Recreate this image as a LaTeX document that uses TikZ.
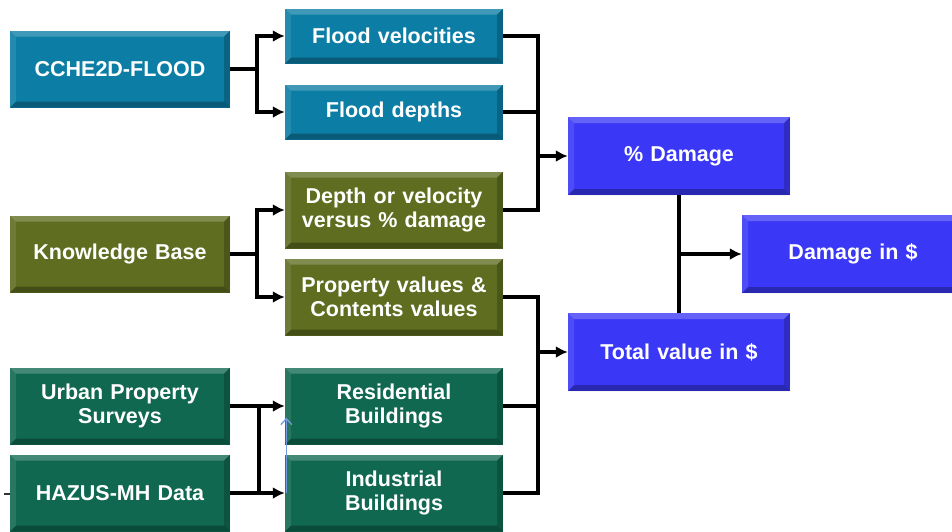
\documentclass[tikz,border=0pt]{standalone}
\usepackage{fontspec}
\setmainfont{Liberation Sans}
\usetikzlibrary{arrows.meta}

\definecolor{tealbox}{RGB}{12,125,165}
\definecolor{olivebox}{RGB}{94,109,32}
\definecolor{greenbox}{RGB}{16,104,80}
\definecolor{bluebox}{RGB}{58,56,246}
\definecolor{faintblue}{RGB}{115,155,225}

\tikzset{
  bevel/.style={path picture={
    \coordinate (nw) at (path picture bounding box.north west);
    \coordinate (ne) at (path picture bounding box.north east);
    \coordinate (sw) at (path picture bounding box.south west);
    \coordinate (se) at (path picture bounding box.south east);
    % lighter top and left faces
    \fill[white,opacity=0.22] (nw) -- (ne) -- ([shift={(-6pt,-6pt)}]ne) -- ([shift={(6pt,-6pt)}]nw) -- cycle;
    \fill[white,opacity=0.10] (nw) -- (sw) -- ([shift={(6pt,6pt)}]sw) -- ([shift={(6pt,-6pt)}]nw) -- cycle;
    % darker bottom and right faces
    \fill[black,opacity=0.28] (sw) -- (se) -- ([shift={(-6pt,6pt)}]se) -- ([shift={(6pt,6pt)}]sw) -- cycle;
    \fill[black,opacity=0.20] (ne) -- (se) -- ([shift={(-6pt,6pt)}]se) -- ([shift={(-6pt,-6pt)}]ne) -- cycle;
  }},
  box/.style={bevel, minimum width=220pt, minimum height=77pt, inner sep=0pt,
    text width=214pt, align=center, text=white,
    font=\fontsize{21.5}{24}\selectfont\bfseries},
  tealnode/.style={box, fill=tealbox},
  olivenode/.style={box, fill=olivebox},
  greennode/.style={box, fill=greenbox},
  bluenode/.style={box, fill=bluebox, minimum width=222pt, minimum height=78pt},
  link/.style={draw=black, line width=3.5pt},
  linkarrow/.style={link, -{Latex[length=12pt,width=12pt]}},
}

\begin{document}
\begin{tikzpicture}[x=1pt, y=-1pt]
\useasboundingbox (0,0) rectangle (952,531);

% input sources
\node[tealnode]  (cche) at (120,69)  {CCHE2D-FLOOD};
\node[olivenode] (kb)   at (120,254) {Knowledge Base};
\node[greennode] (ups)  at (120,406) {Urban Property\\Surveys};
\node[greennode] (hz)   at (120,493) {HAZUS-MH Data};

% intermediate products
\node[tealnode, minimum width=218pt, minimum height=55pt]  (vel) at (394,36)  {Flood velocities};
\node[tealnode, minimum width=218pt, minimum height=55pt]  (dep) at (394,112) {Flood depths};
\node[olivenode, minimum width=218pt] (dvd) at (394,210) {Depth or velocity\\versus \% damage};
\node[olivenode, minimum width=218pt] (pcv) at (394,297) {Property values \&\\Contents values};
\node[greennode, minimum width=218pt] (res) at (394,406) {Residential\\Buildings};
\node[greennode, minimum width=218pt] (ind) at (394,493) {Industrial\\Buildings};

% results
\node[bluenode] (pdmg) at (679,156) {\% Damage};
\node[bluenode] (tot)  at (679,352) {Total value in \$};
\node[bluenode] (dmg)  at (853,254) {Damage in \$};

% CCHE2D-FLOOD fan-out
\draw[link] (cche.east) -- ++(27,0) coordinate (j1);
\draw[linkarrow] (j1) |- (vel.west);
\draw[linkarrow] (j1) |- (dep.west);

% Knowledge Base fan-out
\draw[link] (kb.east) -- ++(27,0) coordinate (j2);
\draw[linkarrow] (j2) |- (dvd.west);
\draw[linkarrow] (j2) |- (pcv.west);

% survey data into building classes
\draw[linkarrow] (ups.east) -- (res.west);
\draw[linkarrow] (hz.east) -- (ind.west);
\draw[link] ([xshift=29pt]ups.east) -- ([xshift=29pt]hz.east);
\draw[faintblue, line width=1.3pt, -{Straight Barb[length=6pt,width=11pt]}]
  ([xshift=1.5pt]ind.west) -- ([xshift=1.5pt,yshift=27pt]res.south west);

% inputs to % Damage
\draw[link] (vel.east) -- ++(35,0) coordinate (j3) |- (dvd.east);
\draw[link] (dep.east) -- (dep.east -| j3);
\draw[linkarrow] (j3 |- pdmg.west) -- (pdmg.west);

% inputs to Total value
\draw[link] (pcv.east) -- ++(35,0) coordinate (j4) |- (ind.east);
\draw[link] (res.east) -- (res.east -| j4);
\draw[linkarrow] (j4 |- tot.west) -- (tot.west);

% combination into Damage in $
\draw[link] (pdmg.south) -- (tot.north);
\draw[linkarrow] (pdmg.south |- dmg.west) -- (dmg.west);

% short stub left of HAZUS-MH Data
\coordinate (stub) at (4,494);
\draw[black!80, line width=1.5pt] (stub) -- (hz.west |- stub);
\end{tikzpicture}
\end{document}
